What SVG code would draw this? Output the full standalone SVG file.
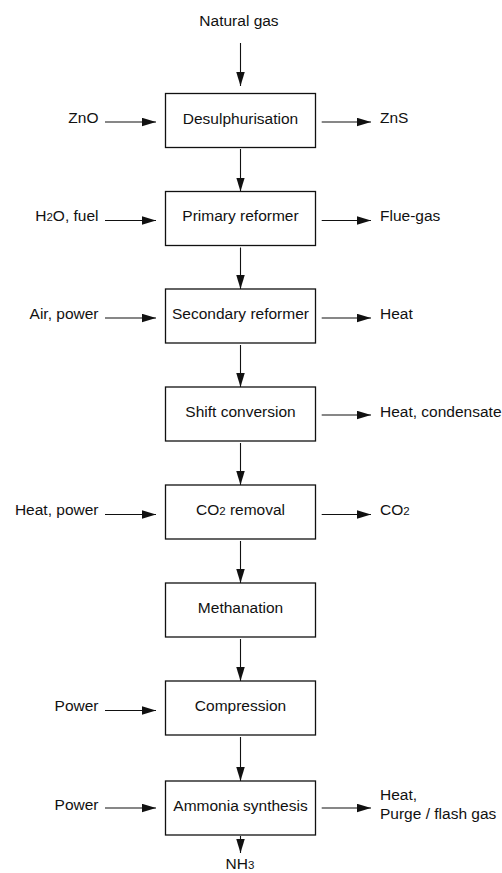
<svg xmlns="http://www.w3.org/2000/svg" width="502" height="873" viewBox="0 0 502 873">
<style>
text{font-family:"Liberation Sans",Arial,sans-serif;font-size:15.5px;fill:#111}
.c{text-anchor:middle}
.l{text-anchor:end}
.box{fill:#fff;stroke:#111;stroke-width:1.3}
.ln{stroke:#111;stroke-width:1.1;fill:none}
.sub{font-size:11.5px}
</style>
<defs>
<marker id="ah" markerUnits="userSpaceOnUse" markerWidth="15" markerHeight="9" refX="14" refY="4.25" orient="auto">
<path d="M0,0 L14,4.25 L0,8.5 Z" fill="#111"/>
</marker>
</defs>
<rect width="502" height="873" fill="#fff"/>
<g id="connectors">
<line class="ln" x1="240.5" y1="43" x2="240.5" y2="86" marker-end="url(#ah)"/>
<line class="ln" x1="240.5" y1="149" x2="240.5" y2="191.5" marker-end="url(#ah)"/>
<line class="ln" x1="240.5" y1="247.5" x2="240.5" y2="289" marker-end="url(#ah)"/>
<line class="ln" x1="240.5" y1="345" x2="240.5" y2="387" marker-end="url(#ah)"/>
<line class="ln" x1="240.5" y1="443" x2="240.5" y2="485" marker-end="url(#ah)"/>
<line class="ln" x1="240.5" y1="541" x2="240.5" y2="583" marker-end="url(#ah)"/>
<line class="ln" x1="240.5" y1="639" x2="240.5" y2="681" marker-end="url(#ah)"/>
<line class="ln" x1="240.5" y1="737" x2="240.5" y2="781" marker-end="url(#ah)"/>
<line class="ln" x1="240.5" y1="836" x2="240.5" y2="853" marker-end="url(#ah)"/>
<line class="ln" x1="105" y1="122" x2="156" y2="122" marker-end="url(#ah)"/>
<line class="ln" x1="105" y1="220.5" x2="156" y2="220.5" marker-end="url(#ah)"/>
<line class="ln" x1="105" y1="318" x2="156" y2="318" marker-end="url(#ah)"/>
<line class="ln" x1="105" y1="514.5" x2="156" y2="514.5" marker-end="url(#ah)"/>
<line class="ln" x1="105" y1="710.5" x2="156" y2="710.5" marker-end="url(#ah)"/>
<line class="ln" x1="105" y1="808" x2="156" y2="808" marker-end="url(#ah)"/>
<line class="ln" x1="321.7" y1="122" x2="371" y2="122" marker-end="url(#ah)"/>
<line class="ln" x1="321.7" y1="220.5" x2="371" y2="220.5" marker-end="url(#ah)"/>
<line class="ln" x1="321.7" y1="318" x2="371" y2="318" marker-end="url(#ah)"/>
<line class="ln" x1="321.7" y1="415" x2="371" y2="415" marker-end="url(#ah)"/>
<line class="ln" x1="321.7" y1="514.5" x2="371" y2="514.5" marker-end="url(#ah)"/>
<line class="ln" x1="321.7" y1="808" x2="371" y2="808" marker-end="url(#ah)"/>
</g>
<g id="n-desulph"><rect class="box" x="165.5" y="93.5" width="150" height="54"/><text class="c" x="240.5" y="123.5">Desulphurisation</text></g>
<g id="n-primary"><rect class="box" x="165.5" y="191.5" width="150" height="54"/><text class="c" x="240.5" y="221">Primary reformer</text></g>
<g id="n-secondary"><rect class="box" x="165.5" y="289" width="150" height="54"/><text class="c" x="240.5" y="319">Secondary reformer</text></g>
<g id="n-shift"><rect class="box" x="165.5" y="387" width="150" height="54"/><text class="c" x="240.5" y="416.7">Shift conversion</text></g>
<g id="n-co2"><rect class="box" x="165.5" y="485" width="150" height="54"/><text class="c" x="240.5" y="515">CO<tspan class="sub">2</tspan> removal</text></g>
<g id="n-meth"><rect class="box" x="165.5" y="583" width="150" height="54"/><text class="c" x="240.5" y="612.7">Methanation</text></g>
<g id="n-comp"><rect class="box" x="165.5" y="681" width="150" height="54"/><text class="c" x="240.5" y="711">Compression</text></g>
<g id="n-synth"><rect class="box" x="165.5" y="781" width="150" height="54"/><text class="c" x="240.5" y="810.7">Ammonia synthesis</text></g>
<g id="labels">
<text class="c" x="239" y="26">Natural gas</text>
<text class="l" x="98.5" y="123.3">ZnO</text>
<text x="380" y="123.3">ZnS</text>
<text class="l" x="98.5" y="221">H<tspan class="sub">2</tspan>O, fuel</text>
<text x="380" y="221">Flue-gas</text>
<text class="l" x="98.5" y="319">Air, power</text>
<text x="380" y="319">Heat</text>
<text x="380" y="416.7">Heat, condensate</text>
<text class="l" x="98.5" y="515">Heat, power</text>
<text x="380" y="515">CO<tspan class="sub">2</tspan></text>
<text class="l" x="98.5" y="711">Power</text>
<text class="l" x="98.5" y="810">Power</text>
<text x="380" y="800">Heat,</text>
<text x="380" y="819">Purge / flash gas</text>
<text class="c" x="240" y="868.5">NH<tspan class="sub">3</tspan></text>
</g>
</svg>
